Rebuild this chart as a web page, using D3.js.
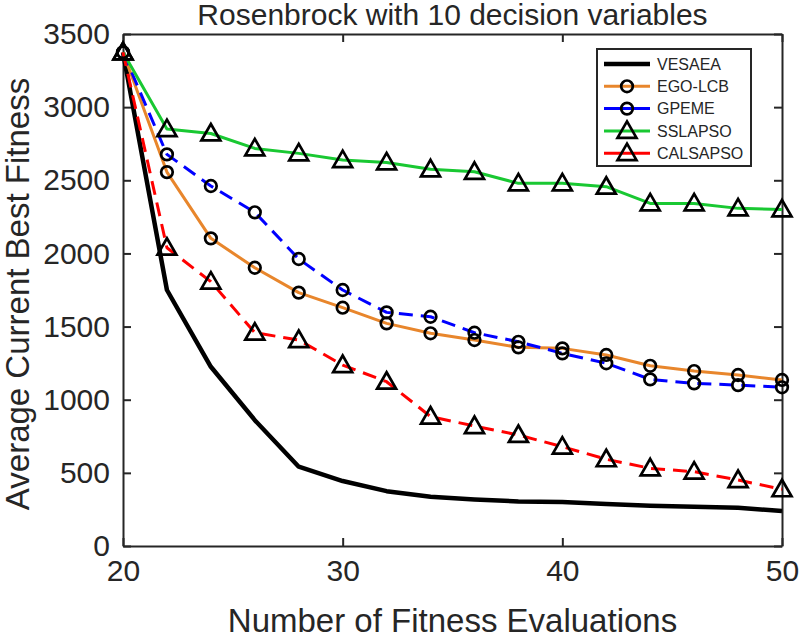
<!DOCTYPE html>
<html>
<head>
<meta charset="utf-8">
<script src="https://cdn.jsdelivr.net/npm/d3@7"></script>
<style>
  body { margin: 0; background: #fff; }
  text { font-family: "Liberation Sans", Arial, Helvetica, sans-serif; fill: #262626; }
</style>
</head>
<body>
<svg id="chart" width="800" height="636"></svg>
<script>
// evaluations on the x axis
const evals = [20, 22, 24, 26, 28, 30, 32, 34, 36, 38, 40, 42, 44, 46, 48, 50];

const vesaea   = [3375, 1750, 1225, 860, 542, 444, 375, 337, 318, 305, 300, 287, 275, 268, 262, 239];
const egoLcb   = [3375, 2556, 2103, 1902, 1732, 1629, 1522, 1454, 1408, 1358, 1351, 1306, 1232, 1196, 1169, 1135];
const gpeme    = [3375, 2677, 2461, 2281, 1962, 1750, 1597, 1567, 1458, 1396, 1317, 1249, 1139, 1112, 1100, 1085];
const sslapso  = [3375, 2850, 2820, 2718, 2684, 2638, 2622, 2575, 2558, 2479, 2479, 2456, 2342, 2342, 2308, 2301];
const calsapso = [3375, 2039, 1807, 1458, 1408, 1237, 1123, 885, 820, 759, 679, 593, 531, 508, 451, 388];

const xTicks = [20, 30, 40, 50];
const yTicks = [0, 500, 1000, 1500, 2000, 2500, 3000, 3500];

const series = [
  {name: 'VESAEA', values: vesaea, color: '#000000', width: 4.5, dash: null, marker: null},
  {name: 'EGO-LCB', values: egoLcb, color: '#e8862c', width: 3, dash: null, marker: 'circle'},
  {name: 'GPEME', values: gpeme, color: '#0000ff', width: 3, dash: '14,8', marker: 'circle'},
  {name: 'SSLAPSO', values: sslapso, color: '#19c832', width: 3, dash: null, marker: 'triangle'},
  {name: 'CALSAPSO', values: calsapso, color: '#ff0000', width: 3, dash: '14,8', marker: 'triangle'},
];

const svg = d3.select('#chart');
const margin = {left: 123, right: 18, top: 34, bottom: 90};
const W = 800, H = 636;
const axisColor = '#262626';

const x = d3.scaleLinear().domain([20, 50]).range([margin.left, W - margin.right]);
const y = d3.scaleLinear().domain([0, 3500]).range([H - margin.bottom, margin.top]);

// axes with inward ticks on all four sides
const tickLen = 8;
const gAxes = svg.append('g');
gAxes.append('g')
    .attr('transform', `translate(0,${y(0)})`)
    .call(d3.axisBottom(x).tickValues(xTicks).tickSizeInner(-tickLen).tickSizeOuter(0).tickPadding(14));
gAxes.append('g')
    .attr('transform', `translate(0,${y(3500)})`)
    .call(d3.axisTop(x).tickValues(xTicks).tickSizeInner(-tickLen).tickSizeOuter(0).tickFormat(''));
gAxes.append('g')
    .attr('transform', `translate(${x(20)},0)`)
    .call(d3.axisLeft(y).tickValues(yTicks).tickFormat(d3.format('d'))
        .tickSizeInner(-tickLen).tickSizeOuter(0).tickPadding(13));
gAxes.append('g')
    .attr('transform', `translate(${x(50)},0)`)
    .call(d3.axisRight(y).tickValues(yTicks).tickSizeInner(-tickLen).tickSizeOuter(0).tickFormat(''));

gAxes.selectAll('.domain').attr('stroke', axisColor).attr('stroke-width', 2);
gAxes.selectAll('.tick line').attr('stroke', axisColor).attr('stroke-width', 2);
gAxes.selectAll('.tick text')
    .style('font-family', '"Liberation Sans", Arial, sans-serif')
    .style('font-size', '30px')
    .attr('fill', axisColor);

// lines
const line = d3.line().x((d, i) => x(evals[i])).y((d) => y(d));
const gLines = svg.append('g');
series.forEach((s) => {
  gLines.append('path')
      .datum(s.values)
      .attr('d', line)
      .attr('fill', 'none')
      .attr('stroke', s.color)
      .attr('stroke-width', s.width)
      .attr('stroke-linejoin', 'round')
      .attr('stroke-dasharray', s.dash);
});

// markers
const triPath = 'M0,-9.5 L9.5,7 L-9.5,7 Z';
function drawMarker(g, type, cx, cy) {
  if (type === 'circle') {
    g.append('circle')
        .attr('cx', cx).attr('cy', cy).attr('r', 5.8)
        .attr('fill', 'none').attr('stroke', '#000').attr('stroke-width', 2.7);
  } else if (type === 'triangle') {
    g.append('path')
        .attr('d', triPath)
        .attr('transform', `translate(${cx},${cy})`)
        .attr('fill', 'none').attr('stroke', '#000').attr('stroke-width', 2.7)
        .attr('stroke-linejoin', 'miter');
  }
}
const gMarks = svg.append('g');
series.forEach((s) => {
  if (!s.marker) return;
  s.values.forEach((v, i) => drawMarker(gMarks, s.marker, x(evals[i]), y(v)));
});

// axis labels and title
svg.append('text')
    .attr('x', (x(20) + x(50)) / 2)
    .attr('y', 25)
    .attr('text-anchor', 'middle')
    .style('font-size', '30px')
    .attr('fill', '#000')
    .text('Rosenbrock with 10 decision variables');

svg.append('text')
    .attr('x', (x(20) + x(50)) / 2)
    .attr('y', 632)
    .attr('text-anchor', 'middle')
    .style('font-size', '33px')
    .text('Number of Fitness Evaluations');

svg.append('text')
    .attr('transform', `translate(29,${(y(0) + y(3500)) / 2 + 4}) rotate(-90)`)
    .attr('text-anchor', 'middle')
    .style('font-size', '33px')
    .text('Average Current Best Fitness');

// legend
const legend = svg.append('g');
const lx = 597, ly = 49, lw = 154, lh = 117;
legend.append('rect')
    .attr('x', lx).attr('y', ly).attr('width', lw).attr('height', lh)
    .attr('fill', '#fff').attr('stroke', axisColor).attr('stroke-width', 2);
series.forEach((s, i) => {
  const cy = ly + 15 + i * 22.3;
  legend.append('line')
      .attr('x1', lx + 7).attr('x2', lx + 53)
      .attr('y1', cy).attr('y2', cy)
      .attr('stroke', s.color)
      .attr('stroke-width', s.width);
  drawMarker(legend, s.marker, lx + 30, cy);
  legend.append('text')
      .attr('x', lx + 60)
      .attr('y', cy)
      .attr('dy', '0.36em')
      .style('font-size', '16px')
      .attr('fill', '#000')
      .text(s.name);
});
</script>
</body>
</html>
